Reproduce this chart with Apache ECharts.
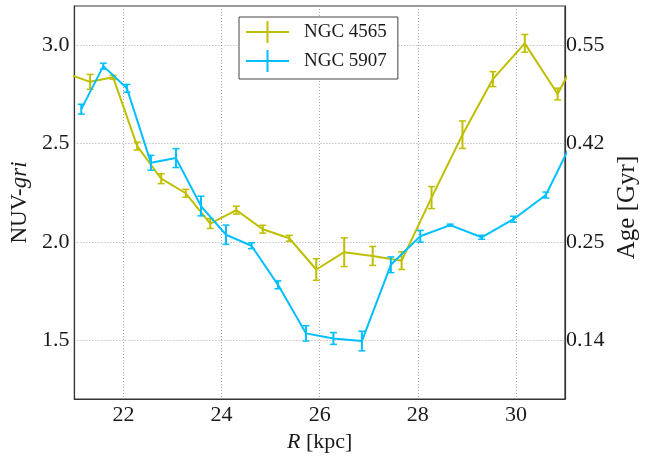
<!DOCTYPE html>
<html><head><meta charset="utf-8">
<script src="https://cdn.jsdelivr.net/npm/echarts@6/dist/echarts.min.js"></script>
<style>html,body{margin:0;padding:0;background:#fff}#c{width:649px;height:458px}</style>
</head><body><div id="c"></div>
<script>
// NGC 4565
const r4565 = [20.85, 21.32, 21.79, 22.28, 22.77, 23.27, 23.77, 24.30, 24.84, 25.38, 25.93, 26.50, 27.08, 27.67, 28.28, 28.91, 29.53, 30.18, 30.85, 31.52];
const v4565 = [2.856, 2.814, 2.837, 2.487, 2.321, 2.247, 2.093, 2.161, 2.064, 2.018, 1.859, 1.947, 1.928, 1.904, 2.225, 2.545, 2.828, 3.010, 2.752, 3.07];
const e4565 = [0.03, 0.038, 0.01, 0.02, 0.025, 0.02, 0.025, 0.02, 0.02, 0.015, 0.055, 0.073, 0.048, 0.045, 0.056, 0.07, 0.038, 0.045, 0.03, 0.03];
// NGC 5907
const r5907 = [21.14, 21.59, 22.07, 22.56, 23.07, 23.58, 24.09, 24.61, 25.15, 25.72, 26.28, 26.86, 27.45, 28.05, 28.66, 29.30, 29.95, 30.61, 31.28];
const v5907 = [2.675, 2.894, 2.781, 2.402, 2.426, 2.182, 2.036, 1.980, 1.781, 1.534, 1.508, 1.495, 1.883, 2.028, 2.085, 2.023, 2.115, 2.238, 2.578];
const e5907 = [0.025, 0.015, 0.02, 0.038, 0.048, 0.05, 0.049, 0.015, 0.02, 0.039, 0.03, 0.05, 0.04, 0.03, 0.005, 0.01, 0.015, 0.015, 0.02];
// right axis (age) tick labels at NUV-gri positions
const ageAt = [1.5, 2.0, 2.5, 3.0];
const ageLabels = ['0.14', '0.25', '0.42', '0.55'];
const names = ['NGC 4565', 'NGC 5907'];

const C1 = '#bfbf00', C2 = '#00bfff';
const FONT = 'Liberation Serif';
const TXT = '#1a1a1a';

function lineData(r, v) { return r.map((x, i) => [x, v[i]]); }
function errData(r, v, e) { return r.map((x, i) => [x, v[i], e[i]]); }
function errRender(color) {
  return function (params, api) {
    const x = api.value(0), y = api.value(1), e = api.value(2);
    const t = api.coord([x, y + e]), b = api.coord([x, y - e]);
    const cap = 3.5;
    const st = { stroke: color, lineWidth: 2, fill: null };
    return {
      type: 'group', children: [
        { type: 'line', shape: { x1: t[0], y1: t[1], x2: b[0], y2: b[1] }, style: st },
        { type: 'line', shape: { x1: t[0] - cap, y1: t[1], x2: t[0] + cap, y2: t[1] }, style: { stroke: color, lineWidth: 1.5 } },
        { type: 'line', shape: { x1: b[0] - cap, y1: b[1], x2: b[0] + cap, y2: b[1] }, style: { stroke: color, lineWidth: 1.5 } }
      ]
    };
  };
}

const gridLine = { show: true, lineStyle: { color: '#a8a8a8', type: [1, 2], width: 1 } };
const axLine = { show: true, lineStyle: { color: '#333', width: 1.2 } };

const chart = echarts.init(document.getElementById('c'), null, { renderer: 'canvas' });
chart.setOption({
  animation: false,
  backgroundColor: '#fff',
  grid: { left: 73, right: 84, top: 6, bottom: 57, show: true, borderColor: '#333', borderWidth: 1.2, backgroundColor: 'transparent' },
  legend: {
    data: names,
    orient: 'vertical',
    left: 239, top: 17,
    padding: [4, 11, 7, 7],
    itemWidth: 43, itemHeight: 22, itemGap: 7,
    icon: 'path://M0,10h43v2h-43z M20.5,0h2v22h-2z',
    borderColor: '#444', borderWidth: 1, borderRadius: 0,
    backgroundColor: '#fff',
    textStyle: { fontFamily: FONT, fontSize: 19, color: TXT, padding: [0, 0, 0, 10] }
  },
  xAxis: {
    type: 'value', min: 21, max: 31, splitNumber: 5,
    name: '{i|R} [kpc]', nameLocation: 'middle', nameGap: 32,
    nameTextStyle: { fontFamily: FONT, fontSize: 22, color: TXT, rich: { i: { fontFamily: FONT, fontSize: 22, fontStyle: 'italic', color: TXT } } },
    axisLine: axLine, axisTick: { show: false },
    axisLabel: {
      fontFamily: FONT, fontSize: 22, color: TXT, margin: 5,
      showMinLabel: false, showMaxLabel: false,
      formatter: v => (Math.abs(v % 2) < 1e-9 ? String(v) : '')
    },
    splitLine: gridLine
  },
  yAxis: [
    {
      type: 'value', min: 1.2, max: 3.2, splitNumber: 4,
      name: 'NUV-{i|gri}', nameLocation: 'middle', nameGap: 41, nameRotate: 90,
      nameTextStyle: { fontFamily: FONT, fontSize: 23, color: TXT, rich: { i: { fontFamily: FONT, fontSize: 23, fontStyle: 'italic', color: TXT } } },
      axisLine: axLine, axisTick: { show: false },
      axisLabel: {
        fontFamily: FONT, fontSize: 22, color: TXT, margin: 5,
        showMinLabel: false, showMaxLabel: false,
        formatter: v => (Math.abs(v * 2 - Math.round(v * 2)) < 1e-9 ? v.toFixed(1) : '')
      },
      splitLine: gridLine
    },
    {
      type: 'value', min: 1.2, max: 3.2, splitNumber: 4, position: 'right',
      name: 'Age [Gyr]', nameLocation: 'middle', nameGap: 46, nameRotate: 90,
      nameTextStyle: { fontFamily: FONT, fontSize: 25, color: TXT, padding: [0, 10, 0, 0] },
      axisLine: axLine, axisTick: { show: false },
      axisLabel: {
        fontFamily: FONT, fontSize: 22, color: TXT, margin: 1,
        showMinLabel: false, showMaxLabel: false,
        formatter: v => { const k = ageAt.findIndex(a => Math.abs(a - v) < 1e-9); return k >= 0 ? ageLabels[k] : ''; }
      },
      splitLine: { show: false }
    }
  ],
  series: [
    { name: 'line4565', type: 'line', data: lineData(r4565, v4565), symbol: 'none', clip: true,
      lineStyle: { color: C1, width: 2 }, itemStyle: { color: C1 }, z: 2 },
    { name: names[0], type: 'custom', data: errData(r4565, v4565, e4565), renderItem: errRender(C1), clip: true,
      itemStyle: { color: C1 }, z: 2 },
    { name: 'line5907', type: 'line', data: lineData(r5907, v5907), symbol: 'none', clip: true,
      lineStyle: { color: C2, width: 2 }, itemStyle: { color: C2 }, z: 3 },
    { name: names[1], type: 'custom', data: errData(r5907, v5907, e5907), renderItem: errRender(C2), clip: true,
      itemStyle: { color: C2 }, z: 3 }
  ]
});
</script>
</body></html>
